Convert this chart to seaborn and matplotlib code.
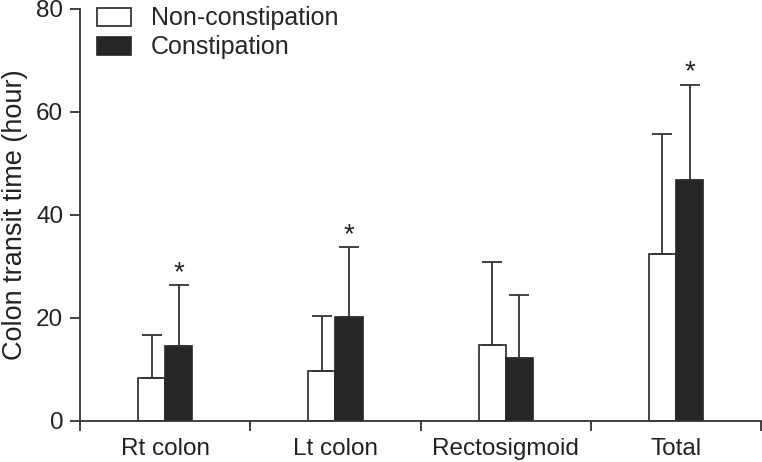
import matplotlib
matplotlib.use("Agg")
import matplotlib.pyplot as plt
import seaborn as sns
import pandas as pd
from matplotlib.patches import Patch

categories = ["Rt colon", "Lt colon", "Rectosigmoid", "Total"]
groups = ["Non-constipation", "Constipation"]
non_mean = [8.4, 9.6, 14.7, 32.4]
non_sd = [8.2, 10.8, 16.1, 23.3]
con_mean = [14.6, 20.2, 12.2, 46.7]
con_sd = [11.7, 13.5, 12.3, 18.6]
significant = [True, True, False, True]

df = pd.DataFrame({
    "segment": categories * 2,
    "group": [groups[0]] * 4 + [groups[1]] * 4,
    "value": non_mean + con_mean,
    "sd": non_sd + con_sd,
})

sns.set_style("ticks")
plt.rcParams["font.family"] = ["Liberation Sans", "DejaVu Sans"]
dark = "#262626"

fig = plt.figure(figsize=(7.62, 4.62), dpi=100)
ax = fig.add_axes([0.105, 0.089, 0.894, 0.892])

sns.barplot(data=df, x="segment", y="value", hue="group", hue_order=groups,
            order=categories, palette={groups[0]: "white", groups[1]: dark},
            edgecolor=dark, linewidth=1.2, width=0.32, errorbar=None,
            legend=False, ax=ax)

for cont, g in zip(ax.containers, groups):
    sub = df[df.group == g].set_index("segment").loc[categories]
    for bar, (m, s), sig in zip(cont, zip(sub.value, sub.sd), significant):
        xc = bar.get_x() + bar.get_width() / 2
        ax.errorbar(xc, m, yerr=[[0], [s]], fmt="none", ecolor="#333333",
                    elinewidth=1.3, capsize=7, capthick=1.3, zorder=1)
        if g == groups[1] and sig:
            ax.text(xc, m + s + 2.3, "*", ha="center", va="center",
                    fontsize=20, color="#222222")

ax.set_xlim(-0.5, 3.5)
ax.set_ylim(0, 80)
ax.set_yticks([0, 20, 40, 60, 80])
ax.set_xticks([0, 1, 2, 3])
ax.set_xticklabels(categories)
ax.set_xticks([-0.5, 0.5, 1.5, 2.5, 3.5], minor=True)
ax.tick_params(axis="x", which="major", length=0, labelsize=17.5, pad=12,
               colors="#222222")
ax.tick_params(axis="x", which="minor", length=7, width=1.3, color="#333333")
ax.tick_params(axis="y", length=7, width=1.3, labelsize=17.5, color="#333333",
               labelcolor="#222222", pad=5)
ax.set_xlabel("")
ax.set_ylabel("Colon transit time (hour)", fontsize=19.5, color="#222222",
              labelpad=6)
for sp in ["top", "right"]:
    ax.spines[sp].set_visible(False)
for sp in ["left", "bottom"]:
    ax.spines[sp].set_linewidth(1.3)
    ax.spines[sp].set_color("#333333")

handles = [Patch(facecolor="white", edgecolor=dark, linewidth=1.2),
           Patch(facecolor=dark, edgecolor=dark, linewidth=1.2)]
ax.legend(handles, groups, loc="upper left", bbox_to_anchor=(0.01, 1.03),
          frameon=False, fontsize=18, handlelength=1.35, handleheight=0.75,
          handletextpad=0.8, labelspacing=0.2, borderaxespad=0)

fig.savefig("out.png", dpi=100)
